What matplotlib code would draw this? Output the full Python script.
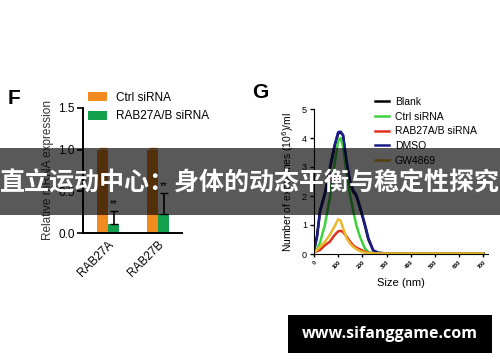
import matplotlib.pyplot as plt
from matplotlib.patches import Rectangle
import numpy as np

plt.rcParams['font.family'] = ['Liberation Sans', 'DejaVu Sans']

# ---- panel F data ----
genes = ["RAB27A", "RAB27B"]
ctrl_vals = [1.0, 1.0]
ctrl_err = [0.02, 0.02]
kd_vals = [0.11, 0.23]
kd_err = [0.16, 0.25]

# ---- panel G data ----
size_nm = [0, 12, 25, 45, 65, 85, 100, 110, 120, 135, 150, 162, 175, 190, 210, 225, 245, 265, 300, 400, 500, 600, 700]
blank = [0.15, 0.6, 1.5, 2.1, 2.9, 3.7, 4.15, 4.2, 4.1, 3.1, 2.4, 2.15, 2.0, 1.6, 1.0, 0.5, 0.12, 0.04, 0.02, 0.02, 0.02, 0.02, 0.02]
dmso = [0.12, 0.55, 1.45, 2.05, 2.95, 3.75, 4.2, 4.22, 4.1, 3.2, 2.5, 2.2, 2.05, 1.65, 1.05, 0.55, 0.13, 0.04, 0.02, 0.02, 0.02, 0.02, 0.02]
ctrl_sirna = [0.05, 0.15, 0.4, 1.0, 1.9, 3.1, 3.9, 4.0, 3.7, 2.8, 2.0, 1.5, 1.0, 0.6, 0.2, 0.06, 0.03, 0.02, 0.02, 0.02, 0.02, 0.02, 0.02]
rab_sirna = [0.05, 0.1, 0.14, 0.3, 0.42, 0.65, 0.78, 0.8, 0.76, 0.6, 0.42, 0.3, 0.22, 0.16, 0.08, 0.04, 0.02, 0.02, 0.02, 0.02, 0.02, 0.02, 0.02]
gw4869 = [0.05, 0.14, 0.25, 0.42, 0.65, 0.95, 1.2, 1.15, 0.9, 0.55, 0.35, 0.25, 0.17, 0.1, 0.05, 0.03, 0.02, 0.02, 0.02, 0.02, 0.02, 0.02, 0.02]

W, H = 500, 362
fig = plt.figure(figsize=(5, 3.62), dpi=100)

def box(l, t, r, b):
    return [l / W, (H - b) / H, (r - l) / W, (b - t) / H]

orange = "#f28b1f"
green = "#14a04c"

# ---------------- panel F ----------------
ax = fig.add_axes(box(83, 108, 182, 233))
x = np.arange(len(genes))
bw = 0.22
ax.bar(x - bw / 2, ctrl_vals, bw, color=orange, label="Ctrl siRNA",
       yerr=[[0, 0], ctrl_err], error_kw=dict(ecolor=orange, capsize=3, lw=1))
ax.bar(x + bw / 2, kd_vals, bw, color=green, label="RAB27A/B siRNA",
       yerr=[[0, 0], kd_err], error_kw=dict(ecolor="black", capsize=3, lw=1.2))
for i in range(len(genes)):
    ax.text(x[i] + bw / 2, kd_vals[i] + kd_err[i] + 0.02, "**", ha="center",
            va="bottom", fontsize=7)
ax.set_xlim(-0.5, 1.48)
ax.set_ylim(0, 1.5)
ax.set_yticks([0.0, 0.5, 1.0, 1.5])
ax.set_yticklabels(["0.0", "0.5", "1.0", "1.5"], fontsize=8.5)
ax.set_xticks(x)
ax.set_xticklabels(genes, rotation=45, ha="right", rotation_mode="anchor", fontsize=8.5)
ax.tick_params(axis="x", length=0, pad=4)
ax.tick_params(axis="y", length=4, width=1.2, pad=2)
for s in ["top", "right"]:
    ax.spines[s].set_visible(False)
for s in ["left", "bottom"]:
    ax.spines[s].set_linewidth(1.4)
ax.set_ylabel("Relative mRNA expression", fontsize=8.5, labelpad=3, color="#333333")
ax.legend(loc="upper left", bbox_to_anchor=(88 / W, (H - 92) / H),
          bbox_transform=fig.transFigure, frameon=False, fontsize=8.5,
          handlelength=1.6, handleheight=0.8, handletextpad=0.8, labelspacing=0.55,
          borderpad=0, borderaxespad=0)
fig.text(8 / W, (H - 104) / H, "F", fontsize=15, fontweight="bold")

# ---------------- panel G ----------------
ag = fig.add_axes(box(314, 109, 488, 254))
ag.plot(size_nm, blank, color="black", lw=1.8, label="Blank")
ag.plot(size_nm, ctrl_sirna, color="#3cd23c", lw=1.8, label="Ctrl siRNA")
ag.plot(size_nm, rab_sirna, color="#e0311f", lw=1.8, label="RAB27A/B siRNA")
ag.plot(size_nm, dmso, color="#1c1c8a", lw=1.8, label="DMSO")
ag.plot(size_nm, gw4869, color="#e8b92a", lw=1.8, label="GW4869")
ag.set_xlim(0, 720)
ag.set_ylim(0, 5)
ag.set_xticks(range(0, 701, 100))
ag.set_xticklabels([str(v) for v in range(0, 701, 100)], rotation=45, fontsize=4,
                   fontweight="bold", ha="right", rotation_mode="anchor")
ag.set_yticks(range(0, 6))
ag.tick_params(axis="y", labelsize=6.5, length=3, width=1, pad=2)
ag.tick_params(axis="x", length=2, width=1, pad=2)
for s in ["top", "right"]:
    ag.spines[s].set_visible(False)
ag.set_xlabel("Size (nm)", fontsize=8, labelpad=6)
ag.set_ylabel("Number of exosomes (10$^6$)/ml", fontsize=7.5, labelpad=4)
ag.legend(loc="upper left", bbox_to_anchor=(375 / W, (H - 97) / H),
          bbox_transform=fig.transFigure, frameon=False, fontsize=7.5,
          handlelength=1.3, handletextpad=0.6, labelspacing=0.45,
          borderpad=0, borderaxespad=0)
fig.text(252 / W, (H - 98) / H, "G", fontsize=15, fontweight="bold")

# ---------------- overlays ----------------
fig.patches.append(Rectangle((0, (H - 215) / H), 1, 67 / H, transform=fig.transFigure,
                             facecolor="black", alpha=0.65, zorder=10))
fig.text(0.5, (H - 183) / H, "直立运动中心：身体的动态平衡与稳定性探究", ha="center",
         va="center", color="white", fontsize=18, fontweight="bold",
         family=["Noto Sans CJK SC", "DejaVu Sans"], zorder=11)
fig.patches.append(Rectangle((288 / W, (H - 353) / H), 204 / W, 38 / H,
                             transform=fig.transFigure, facecolor="black", zorder=10))
fig.text(390 / W, (H - 334) / H, "www.sifanggame.com", ha="center", va="center",
         color="white", fontsize=11.5, fontweight="bold",
         family=["Open Sans", "DejaVu Sans"], zorder=11)

fig.savefig("out.png", dpi=100)
